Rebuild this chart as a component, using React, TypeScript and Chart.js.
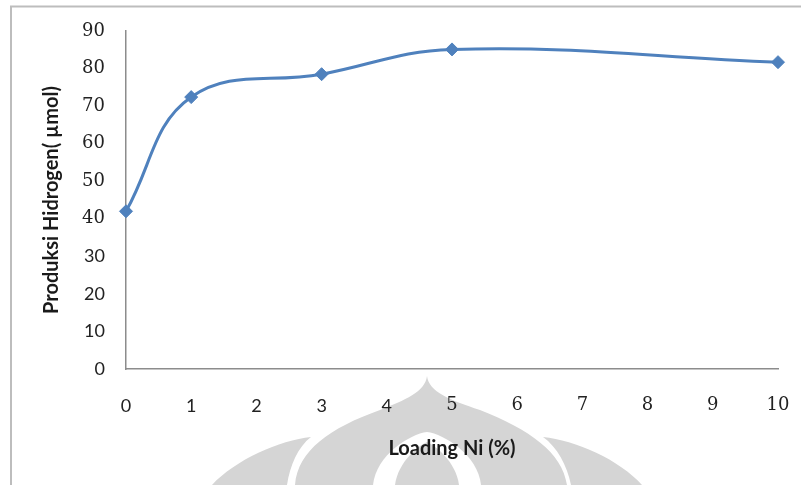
import React, { useEffect, useRef } from 'react';
import { Chart, registerables } from 'chart.js';

Chart.register(...registerables);

// Data
const loadingNi: number[] = [0, 1, 3, 5, 10];
const hydrogenProduction: number[] = [42, 72.4, 78.5, 85.1, 81.7];

const xMin = 0;
const xMax = 10;
const xStep = 1;
const yMin = 0;
const yMax = 90;
const yStep = 10;

const xTitle = 'Loading Ni (%)';
const yTitle = 'Produksi Hidrogen( µmol)';

const SERIF = '"DejaVu Serif", "Liberation Serif", serif';
const SANS = 'Lato, "Open Sans", sans-serif';
const WM = '#d5d5d5';

const decorPlugin = {
  id: 'decor',
  beforeDraw(chart: any) {
    const ctx = chart.ctx as CanvasRenderingContext2D;
    ctx.save();
    // watermark (decorative logo)
    ctx.fillStyle = WM;
    // central dome
    ctx.beginPath();
    ctx.moveTo(427, 376);
    ctx.bezierCurveTo(425, 392, 405, 400, 380, 410);
    ctx.bezierCurveTo(330, 428, 298, 450, 295, 485);
    ctx.lineTo(567, 485);
    ctx.bezierCurveTo(562, 452, 530, 430, 480, 410);
    ctx.bezierCurveTo(450, 400, 429, 392, 427, 376);
    ctx.closePath();
    ctx.fill();
    // left petal
    ctx.beginPath();
    ctx.moveTo(311, 437);
    ctx.bezierCurveTo(280, 440, 235, 460, 212, 485);
    ctx.lineTo(287, 485);
    ctx.bezierCurveTo(290, 465, 298, 447, 311, 437);
    ctx.closePath();
    ctx.fill();
    // right petal
    ctx.beginPath();
    ctx.moveTo(543, 437);
    ctx.bezierCurveTo(575, 440, 620, 460, 642, 485);
    ctx.lineTo(571, 485);
    ctx.bezierCurveTo(567, 465, 557, 447, 543, 437);
    ctx.closePath();
    ctx.fill();
    // white crescent opening
    ctx.fillStyle = '#ffffff';
    ctx.beginPath();
    ctx.moveTo(373, 485);
    ctx.bezierCurveTo(376, 455, 410, 434, 427, 432);
    ctx.bezierCurveTo(444, 434, 478, 455, 481, 485);
    ctx.closePath();
    ctx.fill();
    // inner spire
    ctx.fillStyle = WM;
    ctx.beginPath();
    ctx.moveTo(395, 485);
    ctx.bezierCurveTo(398, 462, 418, 446, 427, 442);
    ctx.bezierCurveTo(436, 446, 456, 462, 459, 485);
    ctx.closePath();
    ctx.fill();

    // outer frame (left and top)
    ctx.strokeStyle = '#bdbdbd';
    ctx.lineWidth = 2;
    ctx.beginPath();
    ctx.moveTo(11, 485);
    ctx.lineTo(11, 6.5);
    ctx.lineTo(801, 6.5);
    ctx.stroke();
    ctx.restore();
  },
};

export default function App() {
  const canvasRef = useRef<HTMLCanvasElement | null>(null);

  useEffect(() => {
    const canvas = canvasRef.current;
    if (!canvas) return;
    const chart = new Chart(canvas, {
      type: 'line',
      data: {
        datasets: [
          {
            label: 'Produksi Hidrogen',
            data: loadingNi.map((x, i) => ({ x, y: hydrogenProduction[i] })),
            borderColor: '#4f81bd',
            backgroundColor: '#4f81bd',
            borderWidth: 3,
            pointStyle: 'rectRot',
            pointRadius: 6.5,
            pointBorderWidth: 1,
            pointBorderColor: '#4f81bd',
            pointBackgroundColor: '#4f81bd',
            tension: 0.4,
            fill: false,
            clip: false,
          } as any,
        ],
      },
      options: {
        responsive: false,
        animation: false,
        devicePixelRatio: 1,
        layout: { padding: { left: 0, top: 31, right: 23, bottom: 0 } },
        plugins: {
          legend: { display: false },
          tooltip: { enabled: false },
        },
        scales: {
          x: {
            type: 'linear',
            min: xMin,
            max: xMax,
            grid: { display: false, drawTicks: false },
            border: { display: true, color: '#8c8c8c', width: 1.5 },
            ticks: {
              stepSize: xStep,
              padding: 26,
              color: '#222222',
              maxRotation: 0,
              font: (c: any) =>
                c.tick && c.tick.value <= 4
                  ? { family: SANS, size: 18 }
                  : { family: SERIF, size: 18 },
            },
            title: {
              display: true,
              text: xTitle,
              color: '#1a1a1a',
              font: { family: SANS, size: 20, weight: 'bold' },
              padding: { top: 0, bottom: 24 },
            },
            afterFit: (scale: any) => {
              scale.height = 116;
              scale.paddingLeft = 0;
              scale.paddingRight = 0;
            },
          },
          y: {
            type: 'linear',
            min: yMin,
            max: yMax,
            grid: { display: false, drawTicks: false },
            border: { display: true, color: '#8c8c8c', width: 1.5 },
            ticks: {
              stepSize: yStep,
              padding: 21,
              color: '#222222',
              font: (c: any) =>
                c.tick && c.tick.value <= 30
                  ? { family: SANS, size: 18 }
                  : { family: SERIF, size: 18 },
            },
            title: {
              display: true,
              text: yTitle,
              color: '#1a1a1a',
              font: { family: SANS, size: 20, weight: 'bold' },
              padding: { top: 40, bottom: 0 },
            },
            afterFit: (scale: any) => {
              scale.width = 126;
              scale.paddingTop = 0;
              scale.paddingBottom = 0;
            },
          },
        },
      },
      plugins: [decorPlugin],
    });
    return () => chart.destroy();
  }, []);

  return (
    <div style={{ position: 'fixed', left: 0, top: 0, width: 801, height: 485, background: '#ffffff' }}>
      <canvas ref={canvasRef} width={801} height={485} />
    </div>
  );
}
